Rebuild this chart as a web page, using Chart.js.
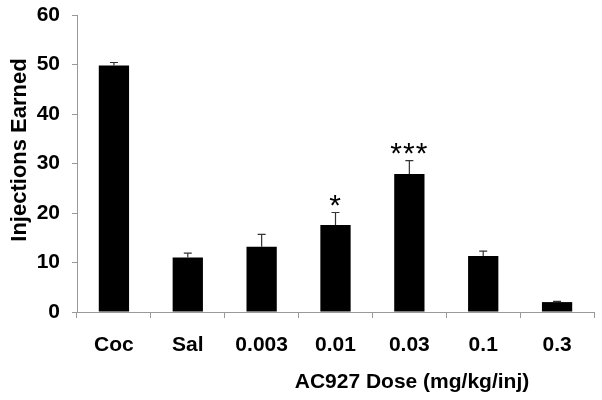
<!DOCTYPE html>
<html>
<head>
<meta charset="utf-8">
<script src="https://cdn.jsdelivr.net/npm/chart.js@4.4.1/dist/chart.umd.min.js"></script>
<style>
  body { margin: 0; background: #fff; }
  #wrap { width: 602px; height: 400px; }
</style>
</head>
<body>
<div id="wrap"><canvas id="chart" width="602" height="400"></canvas></div>
<script>
const doses = ['Coc', 'Sal', '0.003', '0.01', '0.03', '0.1', '0.3'];
const injections = [49.8, 11.0, 13.2, 17.6, 27.9, 11.3, 2.0];
const sem = [0.6, 0.9, 2.5, 2.5, 2.7, 1.0, 0.15];
const stars = ['', '', '', '*', '***', '', ''];
const yTicks = [0, 10, 20, 30, 40, 50, 60];

const FONT = '"Liberation Sans", Arial, sans-serif';

// upper error bars, significance stars and the two axis titles
const extras = {
  id: 'extras',
  afterDatasetsDraw(chart) {
    const ctx = chart.ctx;
    const y = chart.scales.y;
    const meta = chart.getDatasetMeta(0);
    ctx.save();
    meta.data.forEach((bar, i) => {
      const x = bar.x;
      const top = y.getPixelForValue(injections[i]);
      const errTop = y.getPixelForValue(injections[i] + sem[i]);
      ctx.strokeStyle = '#333';
      ctx.lineWidth = 1.2;
      ctx.beginPath();
      ctx.moveTo(x, top);
      ctx.lineTo(x, errTop);
      ctx.moveTo(x - 4, errTop);
      ctx.lineTo(x + 4, errTop);
      ctx.stroke();
      if (stars[i]) {
        ctx.fillStyle = '#000';
        ctx.font = '30px ' + FONT;
        ctx.textAlign = 'center';
        ctx.textBaseline = 'alphabetic';
        ctx.letterSpacing = '1px';
        ctx.fillText(stars[i], x, errTop + 2);
      }
    });
    ctx.letterSpacing = '0px';
    ctx.fillStyle = '#000';
    ctx.font = 'bold 21px ' + FONT;
    ctx.textAlign = 'center';
    ctx.textBaseline = 'middle';
    ctx.fillText('AC927 Dose (mg/kg/inj)', 412, 382);
    ctx.font = 'bold 22px ' + FONT;
    ctx.translate(20, 150);
    ctx.rotate(-Math.PI / 2);
    ctx.fillText('Injections Earned', 0, 0);
    ctx.restore();
  }
};

new Chart(document.getElementById('chart'), {
  type: 'bar',
  data: {
    labels: doses,
    datasets: [{
      data: injections,
      backgroundColor: '#000',
      borderWidth: 0,
      barPercentage: 0.41,
      categoryPercentage: 1.0
    }]
  },
  options: {
    responsive: false,
    animation: false,
    layout: { padding: { top: 0, right: 8, bottom: 0, left: 0 } },
    plugins: { legend: { display: false }, tooltip: { enabled: false } },
    scales: {
      x: {
        offset: true,
        afterFit: (axis) => { axis.height = 88; },
        grid: { display: true, drawOnChartArea: false, offset: true, tickLength: 6, color: '#999' },
        border: { color: '#999' },
        ticks: { color: '#000', font: { family: FONT, size: 21, weight: 'bold' }, padding: 15, maxRotation: 0 }
      },
      y: {
        min: 0,
        max: 60,
        afterBuildTicks: (axis) => { axis.ticks = yTicks.map(v => ({ value: v })); },
        afterFit: (axis) => { axis.width = 77; axis.paddingTop = 15; },
        grid: { display: true, drawOnChartArea: false, tickLength: 5, color: '#999' },
        border: { color: '#999' },
        ticks: { color: '#000', font: { family: FONT, size: 21, weight: 'bold' }, padding: 12 }
      }
    }
  },
  plugins: [extras]
});
</script>
</body>
</html>
